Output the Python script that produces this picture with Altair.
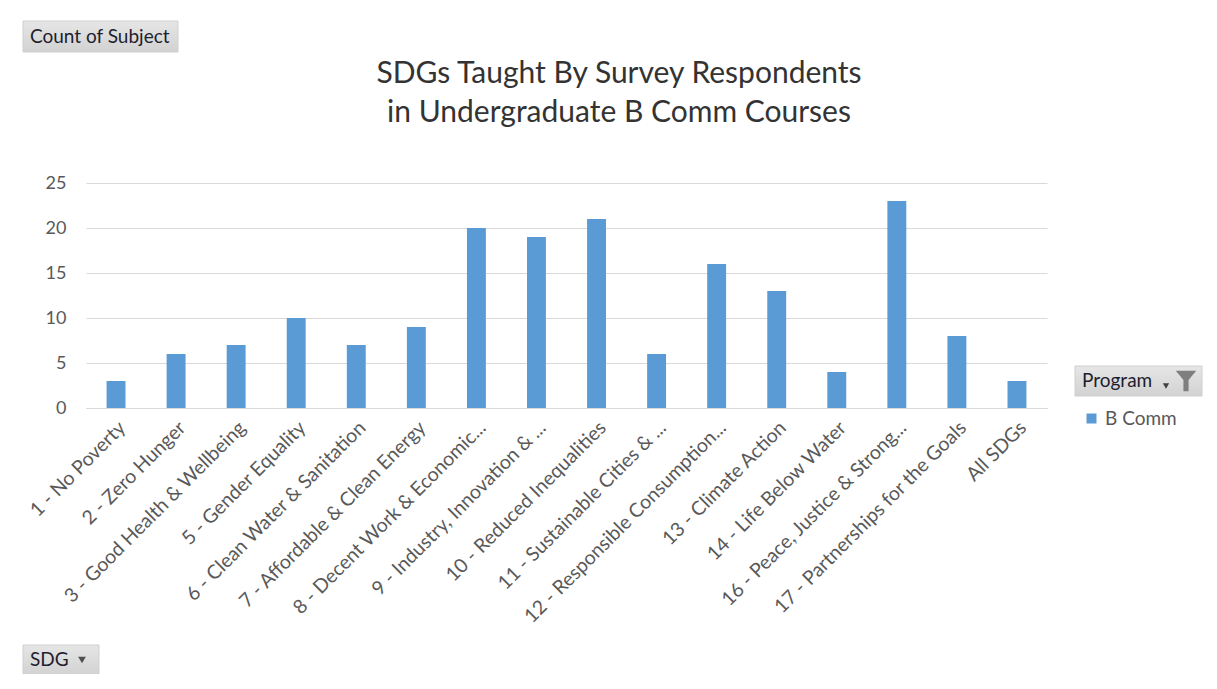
import altair as alt
import pandas as pd

categories = [
    "1 - No Poverty", "2 - Zero Hunger", "3 - Good Health & Wellbeing",
    "5 - Gender Equality", "6 - Clean Water & Sanitation",
    "7 - Affordable & Clean Energy", "8 - Decent Work & Economic...",
    "9 - Industry, Innovation & ...", "10 - Reduced Inequalities",
    "11 - Sustainable Cities & ...", "12 - Responsible Consumption...",
    "13 - Climate Action", "14 - Life Below Water",
    "16 - Peace, Justice & Strong...", "17 - Partnerships for the Goals",
    "All SDGs",
]
counts = [3, 6, 7, 10, 7, 9, 20, 19, 21, 6, 16, 13, 4, 23, 8, 3]
program = ["B Comm"] * len(categories)
y_ticks = [0, 5, 10, 15, 20, 25]

title_lines = ["SDGs Taught By Survey Respondents",
               "in Undergraduate B Comm Courses"]

FONT = "Lato"
W, H = 961, 225

df = pd.DataFrame({"SDG": categories, "Count": counts, "Program": program})

bars = alt.Chart(df).mark_bar(color="#5B9BD5").encode(
    x=alt.X("SDG:N", sort=categories, title=None,
            scale=alt.Scale(paddingInner=0.685, paddingOuter=0.3425),
            axis=alt.Axis(labelAngle=-45, labelFontSize=19.5, labelFont=FONT,
                          labelColor="#595959", ticks=False, tickSize=0,
                          labelPadding=10, domainColor="#d9d9d9",
                          labelLimit=400, labelOverlap=False, grid=False)),
    y=alt.Y("Count:Q", title=None,
            scale=alt.Scale(domain=[0, 25], nice=False),
            axis=alt.Axis(values=y_ticks, labelFontSize=18, labelFont=FONT,
                          labelColor="#595959", ticks=False, tickSize=0,
                          labelPadding=20, domain=False, gridColor="#d9d9d9",
                          gridWidth=1)),
    color=alt.Color("Program:N",
                    scale=alt.Scale(domain=["B Comm"], range=["#5B9BD5"]),
                    legend=alt.Legend(title=None, orient="none", legendX=996,
                                      legendY=226, symbolType="square",
                                      symbolSize=100, symbolStrokeWidth=0,
                                      labelFontSize=19, labelFont=FONT,
                                      labelColor="#595959", padding=0,
                                      labelOffset=4)),
)

grad = alt.Gradient(gradient="linear",
                    stops=[alt.GradientStop(color="#e6e6e6", offset=0),
                           alt.GradientStop(color="#d2d2d2", offset=1)],
                    x1=0, x2=0, y1=0, y2=1)

one = alt.Data(values=[{}])

title = alt.Chart(one).mark_text(
    text=title_lines, font=FONT, fontSize=30, color="#333333",
    align="center", baseline="alphabetic", lineHeight=39).encode(
    x=alt.value(533), y=alt.value(-100))


def button(x0, x1, y0, y1, label, tx):
    r = alt.Chart(one).mark_rect(color=grad, stroke="#cfcfcf", strokeWidth=1).encode(
        x=alt.value(x0), x2=alt.value(x1), y=alt.value(y0), y2=alt.value(y1))
    t = alt.Chart(one).mark_text(text=label, font=FONT, fontSize=19,
                                 color="#1e1e2e", align="left",
                                 baseline="middle").encode(
        x=alt.value(tx), y=alt.value((y0 + y1) / 2))
    return r + t


count_btn = button(-63, 92, -162, -131, "Count of Subject", -56)
sdg_btn = button(-63, 13, 462, 492, "SDG", -56)
sdg_arrow = alt.Chart(one).mark_point(shape="triangle-down", filled=True,
                                      color="#505050", size=60, opacity=1).encode(
    x=alt.value(-4), y=alt.value(477))
prog_btn = button(989, 1116, 183, 213, "Program", 996)
prog_arrow = alt.Chart(one).mark_point(shape="triangle-down", filled=True,
                                       color="#404040", size=40, opacity=1).encode(
    x=alt.value(1080), y=alt.value(203))
funnel = alt.Chart(one).mark_point(
    shape="M-1,-1 L1,-1 L0.25,-0.1 L0.25,1 L-0.25,1 L-0.25,-0.1 Z",
    filled=True, color="#7f7f7f", size=420, opacity=1).encode(
    x=alt.value(1100), y=alt.value(198))

chart = alt.layer(
    bars, title, count_btn, sdg_btn, sdg_arrow, prog_btn, prog_arrow, funnel
).properties(
    width=W, height=H,
    autosize=alt.AutoSizeParams(type="none"),
    padding={"left": 78, "top": 175, "right": 162, "bottom": 266},
).configure_view(strokeWidth=0, stroke=None)

chart.save("out.html", embed_options={"renderer": "svg", "actions": False})
